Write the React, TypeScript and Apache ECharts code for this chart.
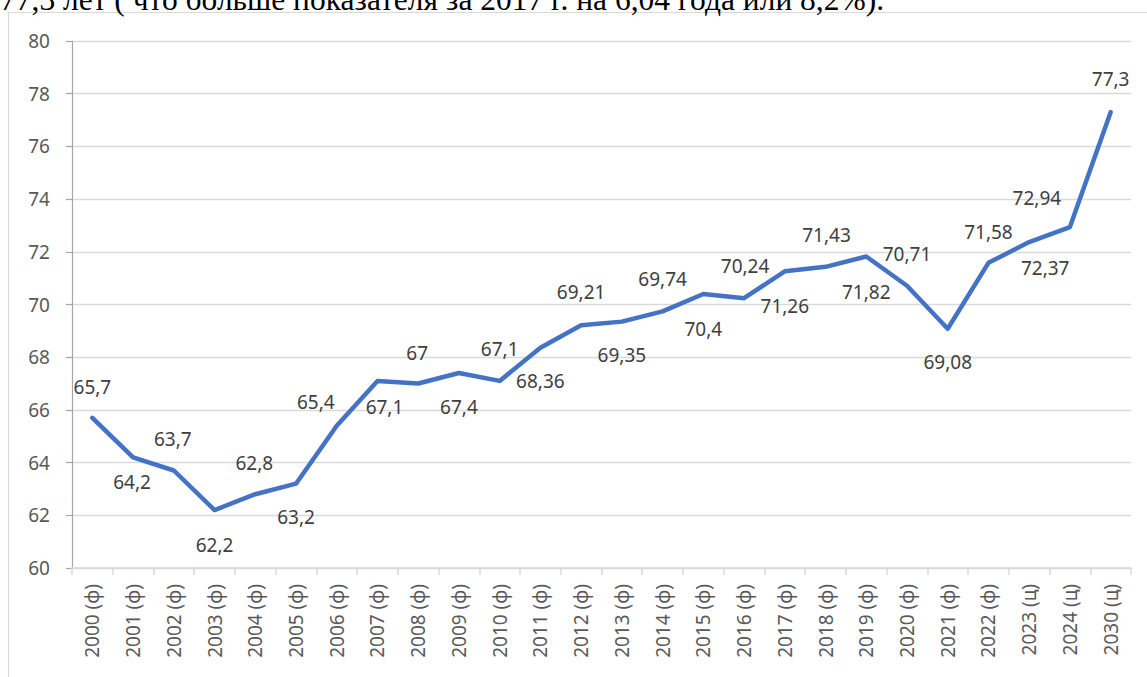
import React, { useEffect, useRef } from "react";
import * as echarts from "echarts";

const categories = [
  "2000 (ф)", "2001 (ф)", "2002 (ф)", "2003 (ф)", "2004 (ф)", "2005 (ф)",
  "2006 (ф)", "2007 (ф)", "2008 (ф)", "2009 (ф)", "2010 (ф)", "2011 (ф)",
  "2012 (ф)", "2013 (ф)", "2014 (ф)", "2015 (ф)", "2016 (ф)", "2017 (ф)",
  "2018 (ф)", "2019 (ф)", "2020 (ф)", "2021 (ф)", "2022 (ф)", "2023 (ц)",
  "2024 (ц)", "2030 (ц)",
];

const values = [
  65.7, 64.2, 63.7, 62.2, 62.8, 63.2, 65.4, 67.1, 67, 67.4, 67.1, 68.36,
  69.21, 69.35, 69.74, 70.4, 70.24, 71.26, 71.43, 71.82, 70.71, 69.08,
  71.58, 72.37, 72.94, 77.3,
];

const yMin = 60;
const yMax = 80;
const yStep = 2;

const headerText = "77,3 лет ( что больше показателя за 2017 г. на 6,04 года или 8,2%).";

// label placement (layout only): [dx, dy] of label centre relative to point
const labelOffsets: [number, number][] = [
  [0, -31], [-1, 25], [-1, -32], [0, 35], [-1, -31], [0, 33],
  [-21, -24], [7, 26], [-1, -31], [0, 34], [0, -32], [0, 33],
  [0, -33], [0, 33], [0, -32], [0, 35], [1, -32], [0, 35],
  [1, -32], [0, 35], [0, -32], [0, 33], [0, -31], [16, 26],
  [-33, -29], [0, -33],
];

const FONT = '"Noto Sans", "Open Sans", sans-serif';

export default function App() {
  const ref = useRef<HTMLDivElement>(null);

  useEffect(() => {
    if (!ref.current) return;
    const chart = echarts.init(ref.current, undefined, { renderer: "svg" });
    chart.setOption({
      animation: false,
      backgroundColor: "#ffffff",
      grid: { left: 72, right: 16, top: 41, bottom: 109, containLabel: false },
      xAxis: {
        type: "category",
        data: categories,
        boundaryGap: true,
        axisLine: { show: true, lineStyle: { color: "#d9d9d9", width: 1.5 } },
        axisTick: { show: true, length: 7, lineStyle: { color: "#d9d9d9", width: 1.5 } },
        axisLabel: {
          rotate: 90,
          margin: 16,
          color: "#595959",
          fontSize: 19,
          fontFamily: FONT,
          interval: 0,
        },
        splitLine: { show: false },
      },
      yAxis: {
        type: "value",
        min: yMin,
        max: yMax,
        interval: yStep,
        axisLine: { show: true, lineStyle: { color: "#a6a6a6", width: 1.2 } },
        axisTick: { show: true, length: 6, lineStyle: { color: "#a6a6a6", width: 1.2 } },
        axisLabel: {
          margin: 22,
          color: "#595959",
          fontSize: 19,
          fontFamily: FONT,
        },
        splitLine: { show: true, lineStyle: { color: "#d9d9d9", width: 1.3 } },
      },
      series: [
        {
          type: "line",
          data: values.map((v, i) => ({
            value: v,
            label: { offset: labelOffsets[i] },
          })),
          showSymbol: true,
          symbol: "circle",
          symbolSize: 1,
          itemStyle: { color: "rgba(68,114,196,0)" },
          lineStyle: { color: "#4472C4", width: 4.5, cap: "round", join: "round" },
          label: {
            show: true,
            position: "inside",
            align: "center",
            verticalAlign: "middle",
            color: "#404040",
            fontSize: 19,
            fontFamily: FONT,
            formatter: (p: any) => String(p.value).replace(".", ","),
          },
          emphasis: { disabled: true },
          z: 3,
        },
      ],
      graphic: [
        {
          type: "polyline",
          shape: { points: [[8.5, 677], [8.5, 12.5], [1147, 12.5]] },
          style: { stroke: "#d9d9d9", lineWidth: 1.2, fill: "none" },
          silent: true,
        },
        {
          type: "text",
          x: 0,
          y: -1,
          style: {
            text: headerText,
            font: '31.5px "Liberation Serif", "Times New Roman", serif',
            fill: "#000000",
            textAlign: "left",
            verticalAlign: "middle",
          },
          silent: true,
        },
      ],
    });
    return () => chart.dispose();
  }, []);

  return (
    <div
      ref={ref}
      style={{ position: "fixed", left: 0, top: 0, width: 1147, height: 677 }}
    />
  );
}
